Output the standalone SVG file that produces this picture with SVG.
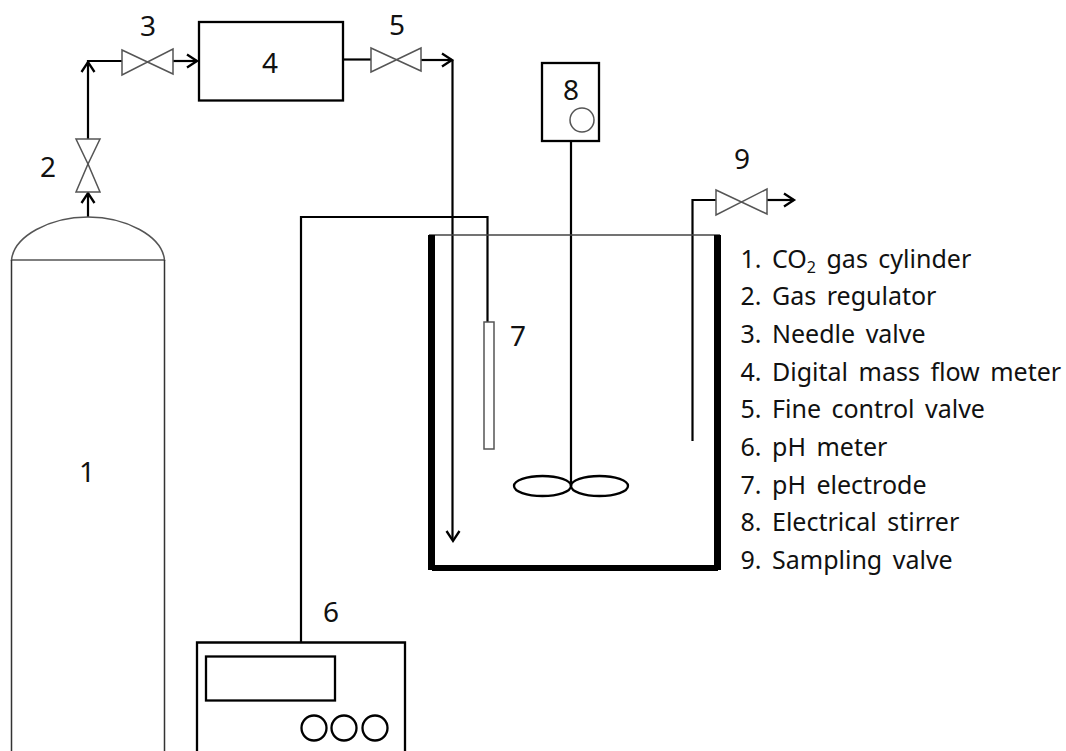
<svg xmlns="http://www.w3.org/2000/svg" width="1066" height="751" viewBox="0 0 1066 751">
<style>
text{font-family:"Noto Sans","Open Sans","Liberation Sans",sans-serif;fill:#111;font-size:28px}
.l{font-size:25px;word-spacing:4px}
.t{fill:#fff;stroke:#555;stroke-width:1.5}
.b{fill:none;stroke:#000;stroke-width:2.3}
.w{fill:#000;stroke:none}
.c{fill:none;stroke:#000;stroke-width:2.200}
.h{fill:none;stroke:#000;stroke-width:2.300}
</style>
<defs>
<path id="ah" class="h" d="M-10,-6.500 L0,0 L-10,6.500"/>
</defs>
<rect width="1066" height="751" fill="#fff"/>
<g id="connectors">
<path class="c" d="M88,217V193"/>
<path class="c" d="M88,139V61H122"/>
<path class="c" d="M173,61H197"/>
<path class="c" d="M343,59.500H371"/>
<path class="c" d="M421,60H452"/>
<path class="c" d="M452.500,60V540"/>
<path class="c" d="M301,642V217H487.500V322"/>
<path class="c" d="M571,141V486"/>
<path class="c" d="M692.500,441V200H716"/>
<path class="c" d="M766,200H794"/>
<use href="#ah" transform="translate(88,193) rotate(-90)"/>
<use href="#ah" transform="translate(88,62) rotate(-90)"/>
<use href="#ah" transform="translate(197,61)"/>
<use href="#ah" transform="translate(452,60)"/>
<use href="#ah" transform="translate(453,541) rotate(90)"/>
<use href="#ah" transform="translate(794,200)"/>
</g>
<g id="node-1">
<path fill="#fff" stroke="#555" stroke-width="1.500" d="M11.500,260C14,236 50,217 88,217C126,217 162,236 164.500,260Z"/>
<path fill="none" stroke="#333" stroke-width="1.500" d="M11.500,260V751M164.500,260V751"/>
<text x="87" y="482" text-anchor="middle">1</text>
</g>
<g id="node-2">
<path class="t" d="M76,139H100L88,164ZM76,192H100L88,164Z"/>
<text x="48" y="177" text-anchor="middle">2</text>
</g>
<g id="node-3">
<path class="t" d="M122,50L173,74V49L122,75Z"/>
<text x="148" y="36" text-anchor="middle">3</text>
</g>
<g id="node-4">
<rect class="b" x="199" y="22" width="144" height="78.500"/>
<text x="270" y="73" text-anchor="middle">4</text>
</g>
<g id="node-5">
<path class="t" d="M371,48L421,71V48L371,72Z"/>
<text x="397" y="35" text-anchor="middle">5</text>
</g>
<g id="node-6">
<path class="b" d="M197,751V642.500H405V751"/>
<rect class="b" x="206" y="656.500" width="129" height="44"/>
<circle class="b" cx="314" cy="728" r="12.500"/>
<circle class="b" cx="344" cy="728" r="12.500"/>
<circle class="b" cx="375" cy="728" r="12.500"/>
<text x="331" y="622" text-anchor="middle">6</text>
</g>
<g id="node-7">
<rect x="484" y="322" width="10" height="127" fill="#fff" stroke="#555" stroke-width="1.500"/>
<text x="518" y="346" text-anchor="middle">7</text>
</g>
<g id="node-8">
<rect class="b" x="542" y="63" width="57" height="78"/>
<circle cx="582" cy="120" r="12" fill="none" stroke="#555" stroke-width="1.500"/>
<text x="571" y="100" text-anchor="middle">8</text>
</g>
<g id="node-9">
<path class="t" d="M716,190L767,214V189L716,215Z"/>
<text x="742" y="169" text-anchor="middle">9</text>
</g>
<g id="vessel">
<path fill="none" stroke="#444" stroke-width="1.500" d="M429,235H720"/>
<rect class="w" x="428" y="235" width="7" height="335"/>
<rect class="w" x="714" y="235" width="7" height="335"/>
<rect class="w" x="432" y="565" width="286" height="6"/>
<ellipse class="b" cx="542.500" cy="486" rx="28.500" ry="10"/>
<ellipse class="b" cx="599.500" cy="486" rx="28.500" ry="10"/>
</g>
<g id="legend">
<text class="l" x="740.500" y="268">1. CO<tspan font-size="16" dy="5">2</tspan><tspan dy="-5"> gas cylinder</tspan></text>
<text class="l" x="740.500" y="305">2. Gas regulator</text>
<text class="l" x="740.500" y="343">3. Needle valve</text>
<text class="l" x="740.500" y="381">4. Digital mass flow meter</text>
<text class="l" x="740.500" y="418">5. Fine control valve</text>
<text class="l" x="740.500" y="456">6. pH meter</text>
<text class="l" x="740.500" y="494">7. pH electrode</text>
<text class="l" x="740.500" y="531">8. Electrical stirrer</text>
<text class="l" x="740.500" y="569">9. Sampling valve</text>
</g>
</svg>
